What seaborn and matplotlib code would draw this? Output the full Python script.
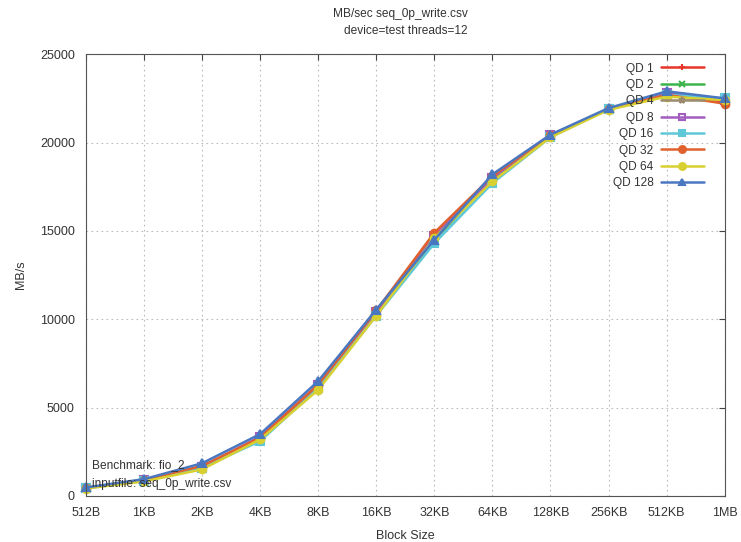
import numpy as np
import pandas as pd
import matplotlib
matplotlib.use("Agg")
import matplotlib.pyplot as plt
import seaborn as sns

# block sizes (bytes) and their tick labels
block_bytes = [512, 1024, 2048, 4096, 8192, 16384, 32768, 65536,
               131072, 262144, 524288, 1048576]
block_labels = ['512B', '1KB', '2KB', '4KB', '8KB', '16KB', '32KB', '64KB',
                '128KB', '256KB', '512KB', '1MB']

qd_names = ['QD 1', 'QD 2', 'QD 4', 'QD 8', 'QD 16', 'QD 32', 'QD 64', 'QD 128']

# MB/s
qd1 = [450, 900, 1650, 3300, 6200, 10400, 14700, 18000, 20400, 21900, 22800, 22300]
qd2 = [450, 880, 1600, 3250, 6100, 10300, 14500, 17900, 20350, 21900, 22700, 22400]
qd4 = [450, 900, 1600, 3300, 6200, 10400, 14600, 18000, 20400, 21900, 22800, 22400]
qd8 = [450, 900, 1650, 3350, 6300, 10400, 14700, 18000, 20400, 21900, 22800, 22400]
qd16 = [430, 850, 1600, 3100, 6100, 10200, 14300, 17700, 20300, 21900, 22700, 22500]
qd32 = [450, 900, 1700, 3300, 6300, 10500, 14900, 18100, 20400, 21900, 22700, 22200]
qd64 = [420, 820, 1500, 3200, 6000, 10200, 14600, 17800, 20300, 21850, 22600, 22400]
qd128 = [480, 950, 1850, 3500, 6500, 10550, 14500, 18200, 20450, 21950, 22900, 22500]

series = [qd1, qd2, qd4, qd8, qd16, qd32, qd64, qd128]
colors = ['#e8352a', '#3cb44b', '#9c8a6e', '#a35cc0', '#5ec8d8', '#e0612d', '#d8d030', '#4a78c0']
markers = ['+', 'x', '*', 's', 's', 'o', 'o', '^']
filled = [True, True, True, False, True, True, True, True]

rows = []
for name, vals in zip(qd_names, series):
    for b, v in zip(block_bytes, vals):
        rows.append({'qd': name, 'bytes': b, 'mbs': v})
df = pd.DataFrame(rows)

sns.set_style('white')
plt.rcParams['font.family'] = ['Liberation Sans', 'DejaVu Sans']
txt = '#333333'

fig = plt.figure(figsize=(7.41, 5.42), dpi=100)
ax = fig.add_axes([0.116, 0.085, 0.862, 0.815])

for name, c, m, f in zip(qd_names, colors, markers, filled):
    sub = df[df['qd'] == name]
    sns.lineplot(data=sub, x='bytes', y='mbs', ax=ax, color=c, marker=m,
                 markersize=5.5, linewidth=1.8, label=name, clip_on=False,
                 markerfacecolor=c if f else 'none', markeredgecolor=c,
                 markeredgewidth=1.5)

ax.set_xscale('log', base=2)
ax.set_xlim(512, 1048576)
ax.set_ylim(0, 25000)
ax.set_xticks(block_bytes)
ax.set_xticklabels(block_labels)
ax.xaxis.set_minor_locator(matplotlib.ticker.NullLocator())
ax.set_yticks(range(0, 25001, 5000))
ax.tick_params(direction='in', top=True, right=True, length=4,
               labelsize=9, colors='#444444', labelcolor=txt, pad=8)
ax.grid(True, linestyle=(0, (1.5, 3)), color='#bbbbbb', linewidth=0.8)
for s in ax.spines.values():
    s.set_color('#555555')
    s.set_linewidth(0.8)

ax.set_xlabel('Block Size', fontsize=9, color=txt, labelpad=8)
ax.set_ylabel('MB/s', fontsize=9, color=txt, labelpad=9)
fig.text(0.54, 0.974, 'MB/sec seq_0p_write.csv', ha='center', va='center',
         fontsize=8.6, color=txt)
fig.text(0.547, 0.942, 'device=test threads=12', ha='center', va='center',
         fontsize=8.6, color=txt)

ax.text(0.01, 0.063, 'Benchmark: fio_2', transform=ax.transAxes,
        fontsize=8.6, color=txt)
ax.text(0.01, 0.02, 'inputfile: seq_0p_write.csv', transform=ax.transAxes,
        fontsize=8.6, color=txt)

leg = ax.legend(loc='upper right', bbox_to_anchor=(0.98, 1.0), frameon=False,
                markerfirst=False, fontsize=8.6, handlelength=3.6,
                labelspacing=0.37, borderpad=0.2, handletextpad=0.6,
                markerscale=0.9)
for t in leg.get_texts():
    t.set_color(txt)

fig.savefig('out.png', dpi=100)
